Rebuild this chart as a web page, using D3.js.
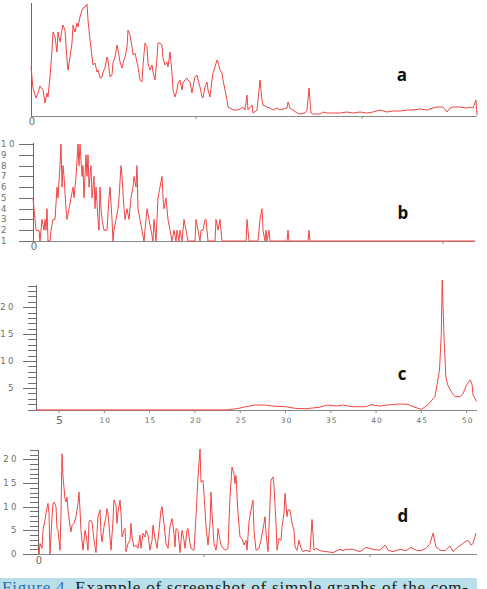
<!DOCTYPE html>
<meta charset="utf-8">

<!-- Load d3.js -->
<script src="https://d3js.org/d3.v7.min.js"></script>

<style>
    body {
        margin: 0;
        background: #fff;
    }

    .tickText {
        font-family: "DejaVu Sans", sans-serif;
        font-size: 8.5px;
        fill: #6e6e6e;
        letter-spacing: 2.5px;
    }

    .panelLabel {
        font-family: "Open Sans", sans-serif;
        font-weight: bold;
        font-size: 17px;
        fill: #111;
        text-anchor: middle;
    }
</style>

<svg id="chart" width="487" height="589"></svg>

<script>
    // ---- data ----

    // graph a (no y labels, arbitrary units)
    var aTime = [0, 2, 5, 7, 9, 12, 14, 16, 17, 19, 21, 22, 24, 26, 27, 29, 31, 32, 34, 36, 37, 39, 41, 42, 44, 46, 47, 49, 51, 52, 54, 56, 57, 59, 61, 62, 64, 66, 67, 69, 71, 72, 74, 76, 77, 79, 81, 82, 84, 86, 87, 89, 91, 92, 94, 96, 97, 99, 101, 102, 104, 106, 107, 109, 111, 112, 114, 116, 117, 119, 121, 122, 124, 126, 127, 129, 131, 132, 134, 136, 137, 139, 141, 142, 144, 146, 147, 149, 151, 152, 154, 156, 157, 159, 161, 162, 164, 166, 167, 169, 171, 172, 174, 176, 177, 179, 181, 182, 184, 186, 187, 189, 191, 192, 194, 196, 197, 199, 202, 206, 209, 212, 214, 216, 217, 221, 222, 226, 229, 231, 232, 236, 239, 242, 246, 249, 252, 256, 257, 259, 262, 266, 269, 274, 276, 278, 280, 282, 289, 292, 296, 302, 309, 316, 322, 329, 336, 342, 349, 356, 362, 369, 376, 382, 389, 396, 402, 406, 412, 416, 419, 422, 429, 436, 439, 442, 445, 446]
    var aValue = [49, 28, 18, 23, 30, 26, 13, 23, 19, 39, 66, 84, 79, 64, 84, 74, 86, 91, 86, 56, 46, 59, 73, 91, 84, 93, 89, 99, 106, 108, 109, 112, 96, 76, 59, 51, 53, 44, 46, 38, 39, 44, 48, 59, 56, 39, 41, 53, 59, 71, 66, 54, 48, 53, 59, 69, 86, 81, 69, 61, 63, 54, 49, 36, 34, 51, 73, 69, 53, 46, 51, 44, 36, 58, 73, 73, 71, 58, 51, 54, 49, 64, 43, 26, 19, 26, 33, 36, 26, 33, 36, 38, 36, 34, 23, 29, 39, 41, 36, 29, 19, 18, 29, 34, 26, 19, 36, 43, 49, 56, 54, 46, 43, 36, 26, 16, 9, 8, 6, 6, 7, 9, 6, 21, 6, 11, 3, 6, 36, 16, 11, 9, 8, 6, 8, 6, 7, 8, 14, 8, 6, 3, 2, 3, 6, 28, 3, 2, 2, 4, 3, 3, 3, 4, 3, 4, 3, 4, 6, 4, 5, 5, 6, 6, 7, 6, 8, 9, 9, 4, 8, 9, 9, 8, 9, 8, 16, 1]
    var aMarks = [165, 331]

    // graph b (integer counts 1..10)
    var bTime = [0, 1, 2, 3, 6, 7, 8, 9, 11, 12, 13, 14, 15, 17, 18, 20, 22, 24, 25, 27, 28, 29, 30, 31, 33, 34, 36, 38, 40, 41, 43, 45, 46, 47, 49, 50, 51, 53, 54, 55, 56, 58, 59, 61, 62, 63, 65, 66, 67, 68, 69, 71, 74, 76, 77, 79, 80, 81, 83, 85, 86, 88, 89, 91, 92, 94, 96, 98, 100, 101, 103, 104, 105, 107, 109, 111, 113, 114, 116, 118, 120, 121, 123, 125, 127, 129, 130, 131, 133, 135, 137, 139, 141, 143, 144, 146, 147, 149, 151, 153, 155, 162, 163, 165, 167, 168, 170, 172, 173, 175, 182, 183, 185, 187, 189, 213, 214, 216, 225, 227, 229, 230, 232, 233, 234, 236, 237, 254, 255, 256, 275, 276, 277, 442]
    var bValue = [5, 4, 3, 2, 2, 1, 2, 3, 2, 3, 2, 4, 1, 1, 2, 3, 3, 6, 5, 8, 10, 6, 8, 7, 4, 3, 4, 5, 6, 5, 7, 10, 8, 10, 7, 8, 5, 9, 7, 9, 6, 8, 5, 7, 4, 6, 3, 2, 6, 4, 3, 2, 2, 5, 6, 3, 1, 2, 3, 4, 5, 8, 7, 4, 3, 4, 3, 5, 6, 7, 6, 8, 4, 3, 2, 1, 3, 4, 3, 2, 1, 3, 1, 5, 6, 7, 5, 4, 5, 3, 2, 1, 2, 1, 2, 1, 2, 1, 3, 2, 1, 1, 3, 2, 1, 2, 2, 3, 3, 1, 1, 3, 2, 3, 1, 1, 3, 1, 1, 3, 4, 2, 1, 2, 1, 2, 1, 1, 2, 1, 1, 2, 1, 1]
    var bTicks = [1, 2, 3, 4, 5, 6, 7, 8, 9, 10]
    var bMarks = [410]

    // graph c (time axis 5..50)
    var cTime = [2.46, 10, 20, 23.5, 24.8, 25.6, 26.7, 27.8, 28.5, 30, 31.1, 32.2, 33.7, 34.6, 35.6, 36.3, 37.4, 38.9, 39.4, 40.4, 41.5, 42.6, 43.5, 44.1, 45, 45.7, 46.5, 47.0, 47.2, 47.3, 47.5, 47.7, 47.9, 48.3, 48.7, 49.3, 49.6, 50.0, 50.4, 50.6, 50.7, 51.1]
    var cValue = [0.95, 0.95, 0.95, 0.95, 1.23, 1.54, 1.85, 1.85, 1.67, 1.54, 1.23, 1.17, 1.42, 1.85, 1.67, 1.85, 1.54, 1.54, 1.91, 1.67, 1.91, 2.04, 1.98, 1.54, 1.05, 1.85, 3.4, 8.3, 15.1, 25, 14.5, 7.1, 5.6, 4.3, 3.4, 3.4, 4.0, 5.6, 6.5, 5.6, 3.7, 2.5]
    var cTicks = [5, 10, 15, 20]
    var cXTicks = [5, 10, 15, 20, 25, 30, 35, 40, 45, 50]

    // graph d
    var dTime = [0, 1, 2, 4, 5, 7, 8, 10, 11, 12, 14, 15, 16, 18, 19, 20, 22, 23, 24, 25, 27, 28, 29, 30, 32, 33, 34, 36, 38, 40, 41, 42, 43, 45, 47, 48, 50, 51, 52, 54, 56, 58, 59, 60, 62, 63, 64, 66, 68, 69, 70, 72, 73, 75, 76, 78, 79, 80, 82, 83, 84, 86, 87, 88, 90, 92, 93, 94, 96, 98, 100, 102, 103, 105, 107, 108, 110, 112, 114, 115, 117, 119, 121, 123, 124, 126, 128, 130, 132, 134, 136, 137, 138, 140, 142, 144, 146, 147, 149, 150, 152, 153, 156, 158, 160, 162, 163, 165, 166, 168, 170, 172, 173, 174, 176, 178, 179, 180, 182, 183, 185, 188, 190, 192, 194, 196, 197, 198, 200, 202, 204, 206, 208, 209, 211, 213, 215, 216, 218, 221, 223, 226, 227, 228, 230, 232, 233, 235, 236, 238, 239, 241, 243, 244, 246, 247, 249, 250, 252, 253, 254, 256, 257, 259, 261, 263, 265, 268, 272, 274, 276, 278, 282, 288, 295, 302, 305, 308, 315, 322, 328, 335, 342, 347, 350, 355, 362, 368, 373, 378, 383, 388, 392, 395, 398, 402, 407, 412, 415, 420, 423, 427, 430, 433, 435, 438]
    var dValue = [1.5, 0, 2.2, 1.2, 5, 7.2, 8.6, 10.7, 8.6, 0, 7.9, 10.7, 11, 10, 5.4, 5, 0.8, 8.6, 21.2, 16.3, 11.7, 11, 12, 9.3, 5.8, 4.7, 6.1, 6.5, 7.9, 10.7, 13.1, 9.3, 5, 0.8, 5, 4, 0.8, 6.8, 7.2, 6.8, 2.9, 0.3, 4.4, 7.9, 9.3, 4.4, 2.6, 5.8, 7.9, 9.6, 8.6, 3.6, 0.8, 7.2, 11.4, 10.3, 6.5, 8.9, 11.4, 8.6, 3.6, 5, 5.4, 0.5, 2.2, 2.9, 6.5, 3.6, 1.5, 1.9, 1.2, 4, 1.2, 4.4, 3.6, 5, 4, 0.8, 2.9, 6.1, 3.3, 1.2, 5, 9.3, 10, 6.5, 2.2, 1.2, 5.8, 7.5, 4.4, 1.5, 5.4, 5, 0.3, 5, 2.9, 1.2, 5, 5.4, 2.2, 1.2, 0.8, 7.9, 16.3, 22.2, 15.2, 15.6, 12.8, 5.8, 1.9, 6.5, 13.1, 8.6, 2.2, 0.8, 2.2, 5.4, 2.9, 1.9, 1.2, 0.8, 1.2, 12, 18.4, 17, 14.9, 16.6, 8.6, 3.6, 3.3, 1.9, 2.9, 0.8, 6.8, 9.3, 11.4, 5, 0.8, 1.2, 2.9, 6.5, 7.9, 4.4, 0.5, 10.7, 15.6, 16.3, 14.5, 6.5, 0.8, 3.3, 2.9, 5.8, 8.6, 12.8, 7.9, 9.3, 9.3, 7.9, 6.5, 5, 1.5, 0.8, 2.9, 1.2, 0.5, 0.8, 0.5, 7.3, 0.8, 1.2, 0.7, 0.5, 0.3, 1.0, 0.7, 1.0, 1.0, 0.5, 1.4, 1.0, 0.8, 1.9, 0.8, 0.5, 1.0, 0.7, 1.4, 0.8, 0.7, 1.2, 2.2, 4.4, 1.5, 0.8, 0.7, 1.7, 0.5, 1.5, 1.9, 2.6, 2.9, 1.9, 2.2, 4.4]
    var dTicks = [0, 5, 10, 15, 20]
    var dMarks = [166, 332]

    var panelNames = ["a", "b", "c", "d"]

    // ---- layout of the four screenshots ----
    var panels = [
        {
            name: panelNames[0], t: aTime, v: aValue, marks: aMarks,
            left: 31, right: 477, top: 3, bottom: 116,
            xDomain: [0, 446], yDomain: [0, 113],
            origin: [31, 122], labelPos: [402, 81]
        },
        {
            name: panelNames[1], t: bTime, v: bValue, marks: bMarks,
            left: 33, right: 475, top: 143, bottom: 241,
            xDomain: [0, 442], yDomain: [1, 10.1],
            major: bTicks, minor: [], majorLen: 14, labelX: 1, labelAnchor: "start",
            origin: [33, 247], labelPos: [403, 219]
        },
        {
            name: panelNames[2], t: cTime, v: cValue, marks: [],
            left: 36, right: 477, top: 285, bottom: 410,
            xDomain: [2.46, 51.14], yDomain: [0.93, 24.1],
            major: cTicks, minor: d3.range(1, 25), majorLen: 13, minorLen: 8, labelX: 16, labelAnchor: "end",
            xLabels: cXTicks, labelPos: [402, 380]
        },
        {
            name: panelNames[3], t: dTime, v: dValue, marks: dMarks,
            left: 38, right: 477, top: 450, bottom: 554,
            xDomain: [0, 439], yDomain: [0, 22],
            major: dTicks, minor: d3.range(0, 23), majorLen: 15, minorLen: 8, labelX: 19, labelAnchor: "end",
            origin: [38, 561], labelPos: [403, 522]
        }
    ]

    var svg = d3.select("#chart")
    var lineColor = "#f04545"

    panels.forEach(drawPanel)

    function drawPanel(p) {
        var x = d3.scaleLinear().domain(p.xDomain).range([p.left, p.right])
        var y = d3.scaleLinear().domain(p.yDomain).range([p.bottom, p.top])
        var g = svg.append("g")

        // minor ticks
        if (p.minor) {
            g.selectAll("minorTick")
                .data(p.minor.filter(d => p.major.indexOf(d) < 0))
                .enter()
                .append("line")
                .attr("x1", p.left - p.minorLen)
                .attr("x2", p.left)
                .attr("y1", d => Math.round(y(d)) + 0.5)
                .attr("y2", d => Math.round(y(d)) + 0.5)
                .attr("stroke", "#707070")
                .attr("stroke-width", 1)
        }

        // major ticks + labels
        if (p.major) {
            g.selectAll("majorTick")
                .data(p.major)
                .enter()
                .append("line")
                .attr("x1", p.left - p.majorLen)
                .attr("x2", p.left)
                .attr("y1", d => Math.round(y(d)) + 0.5)
                .attr("y2", d => Math.round(y(d)) + 0.5)
                .attr("stroke", "#707070")
                .attr("stroke-width", 1)

            g.selectAll("majorLabel")
                .data(p.major)
                .enter()
                .append("text")
                .attr("class", "tickText")
                .attr("x", p.labelX)
                .attr("y", d => y(d) + 3)
                .attr("text-anchor", p.labelAnchor)
                .text(d => d)
        }

        // y axis
        g.append("line")
            .attr("x1", p.left + 0.5).attr("x2", p.left + 0.5)
            .attr("y1", p.top).attr("y2", p.bottom)
            .attr("stroke", "#6a6a6a")
            .attr("stroke-width", 1)

        // x axis
        g.append("line")
            .attr("x1", p.left).attr("x2", p.right)
            .attr("y1", p.bottom + 0.5).attr("y2", p.bottom + 0.5)
            .attr("stroke", "#8a8a8a")
            .attr("stroke-width", 1.2)

        // small marks under the x axis
        g.selectAll("xMark")
            .data(p.marks)
            .enter()
            .append("line")
            .attr("x1", d => x(d)).attr("x2", d => x(d))
            .attr("y1", p.bottom).attr("y2", p.bottom + 3)
            .attr("stroke", "#8a8a8a")

        // labelled time axis (graph c)
        if (p.xLabels) {
            g.selectAll("xTick")
                .data(p.xLabels)
                .enter()
                .append("line")
                .attr("x1", d => x(d)).attr("x2", d => x(d))
                .attr("y1", p.bottom).attr("y2", p.bottom + 3)
                .attr("stroke", "#8a8a8a")

            g.selectAll("xLabel")
                .data(p.xLabels)
                .enter()
                .append("text")
                .attr("class", "tickText")
                .attr("x", d => x(d) + 1)
                .attr("y", d => d == 5 ? p.bottom + 14 : p.bottom + 13)
                .attr("text-anchor", "middle")
                .style("font-size", d => d == 5 ? "11px" : "7.5px")
                .style("letter-spacing", "1px")
                .text(d => d)
        }

        // origin "0" under the axis corner
        if (p.origin) {
            g.append("text")
                .attr("class", "tickText")
                .attr("x", p.origin[0] + 1)
                .attr("y", p.origin[1] + 3)
                .attr("text-anchor", "middle")
                .style("letter-spacing", "0px")
                .style("font-size", "10px")
                .text("0")
        }

        // the series
        var pts = p.t.map((t, i) => [t, p.v[i]])
        g.append("path")
            .datum(pts)
            .attr("d", d3.line().x(d => x(d[0])).y(d => y(d[1])))
            .attr("fill", "none")
            .attr("stroke", lineColor)
            .attr("stroke-width", 1)
            .attr("stroke-linejoin", "round")

        // panel letter
        g.append("text")
            .attr("class", "panelLabel")
            .attr("x", p.labelPos[0])
            .attr("y", p.labelPos[1])
            .text(p.name)
    }

    // caption strip at the bottom (cut off in the screenshot, as in the source)
    svg.append("rect")
        .attr("x", 0).attr("y", 578)
        .attr("width", 477).attr("height", 11)
        .attr("fill", "#b9dfea")

    var cap = svg.append("text")
        .attr("x", 2)
        .attr("y", 593)
        .attr("textLength", 466)
        .attr("lengthAdjust", "spacing")
        .style("font-family", "'Liberation Serif', 'DejaVu Serif', serif")
        .style("font-size", "17px")
    cap.append("tspan").attr("fill", "#2f6fb8").text("Figure 4. ")
    cap.append("tspan").attr("fill", "#1a1a1a").text("Example of screenshot of simple graphs of the com-")
</script>
